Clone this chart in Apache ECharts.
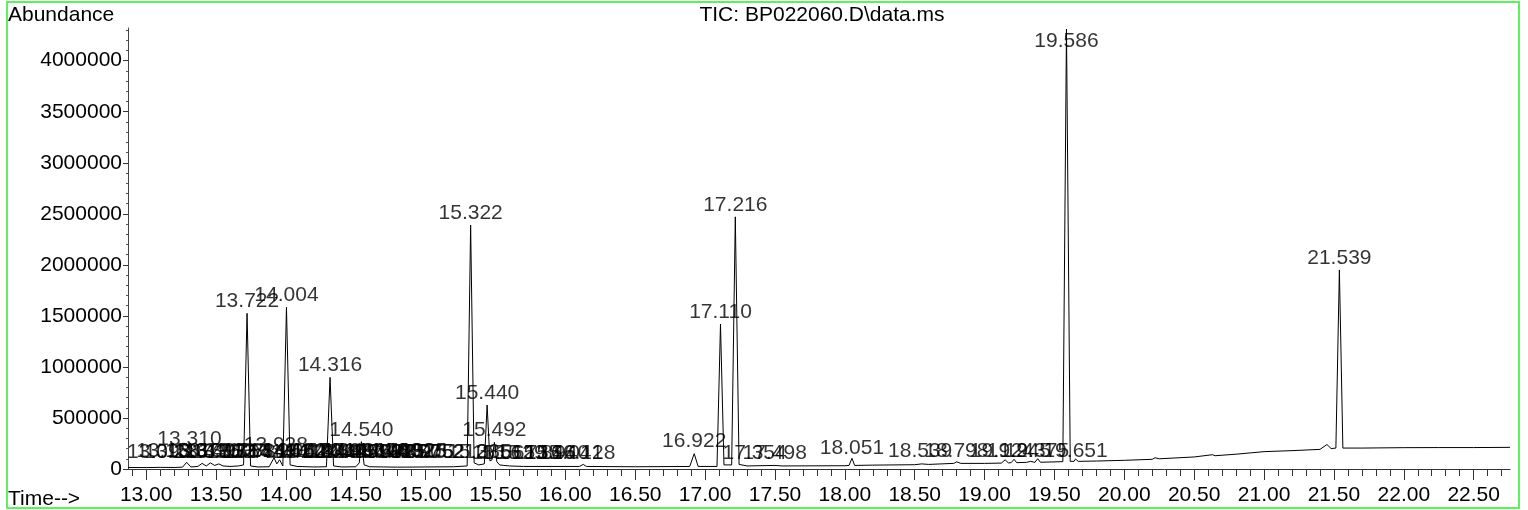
<!DOCTYPE html>
<html>
<head>
<meta charset="utf-8">
<title>TIC: BP022060.D\data.ms</title>
<script src="https://cdn.jsdelivr.net/npm/echarts@6/dist/echarts.min.js"></script>
<style>
  html, body { margin: 0; padding: 0; background: #fff; }
  #main { width: 1528px; height: 510px; }
</style>
</head>
<body>
<div id="main"></div>
<script>
  // TIC trace: retention time (min) and abundance
  var traceTime = [
    12.87, 13.00, 13.10, 13.20, 13.26, 13.29, 13.32, 13.37, 13.40, 13.43, 13.46, 13.49, 13.52, 13.55, 13.60, 13.66,
    13.697, 13.722, 13.747, 13.80, 13.88, 13.915, 13.935, 13.955, 13.978, 14.004, 14.03, 14.08, 14.20, 14.29,
    14.316, 14.341, 14.40, 14.50, 14.525, 14.540, 14.56, 14.60, 14.70, 14.80, 15.00, 15.20, 15.297,
    15.322, 15.347, 15.38, 15.42, 15.440, 15.46, 15.475, 15.492, 15.51, 15.53, 15.56, 15.60, 15.70,
    16.10, 16.128, 16.15, 16.50, 16.89, 16.922, 16.95, 17.085, 17.110, 17.135, 17.19, 17.216, 17.243,
    17.30, 17.50, 17.55, 18.00, 18.03, 18.051, 18.07, 18.20, 18.50, 18.55, 18.60, 18.78, 18.80, 18.83,
    19.00, 19.12, 19.147, 19.17, 19.19, 19.211, 19.23, 19.30, 19.33, 19.36, 19.38, 19.40, 19.56,
    19.586, 19.613, 19.64, 19.651, 19.67, 19.80, 20.00, 20.20, 20.22, 20.25, 20.50, 20.63, 20.65,
    20.80, 21.00, 21.20, 21.40, 21.45, 21.48, 21.514, 21.539, 21.564, 21.70, 22.00, 22.25, 22.50, 22.76
  ];
  var traceAbund = [
    15000, 14000, 16000, 15000, 18000, 65000, 20000, 25000, 55000, 30000, 60000, 35000, 50000, 30000, 25000, 30000,
    40000, 1525000, 30000, 20000, 22000, 110000, 50000, 90000, 30000, 1584000, 40000, 25000, 20000, 22000,
    898000, 30000, 20000, 22000, 60000, 268000, 40000, 22000, 20000, 18000, 20000, 22000, 30000,
    2390000, 60000, 40000, 50000, 627000, 80000, 90000, 262000, 70000, 40000, 35000, 30000, 25000,
    25000, 45000, 25000, 22000, 25000, 150000, 25000, 25000, 1420000, 40000, 40000, 2470000, 45000,
    30000, 35000, 30000, 32000, 35000, 105000, 35000, 38000, 42000, 50000, 45000, 55000, 70000, 55000,
    55000, 58000, 90000, 60000, 62000, 95000, 62000, 65000, 75000, 65000, 101000, 66000, 72000,
    4310000, 75000, 75000, 98000, 75000, 78000, 85000, 95000, 110000, 100000, 118000, 140000, 130000,
    145000, 170000, 180000, 192000, 240000, 200000, 205000, 1950000, 205000, 205000, 209000, 210000, 210000, 212000
  ];

  // integrated peaks: label text and apex abundance
  var peakTimes = [
    '13.093', '13.158', '13.216', '13.310', '13.377', '13.431', '13.497', '13.552', '13.608', '13.664',
    '13.722', '13.781', '13.849', '13.928', '13.962', '14.004', '14.062', '14.118', '14.170', '14.224',
    '14.271', '14.316', '14.349', '14.393', '14.447', '14.491', '14.540', '14.598', '14.646', '14.692',
    '14.740', '14.785', '14.832', '14.877', '14.925', '14.975', '15.052', '15.212', '15.322', '15.385',
    '15.440', '15.492', '15.561', '15.629', '15.735', '15.846', '15.940', '16.041', '16.128', '16.922',
    '17.110', '17.216', '17.354', '17.498', '18.051', '18.539', '18.798', '19.124', '19.245', '19.375',
    '19.586', '19.651', '21.539'
  ];
  var peakHeights = [
    50000, 55000, 50000, 170000, 55000, 50000, 55000, 50000, 55000, 50000,
    1525000, 50000, 55000, 120000, 55000, 1584000, 55000, 50000, 55000, 50000,
    55000, 898000, 50000, 55000, 50000, 55000, 260000, 50000, 55000, 50000,
    55000, 50000, 55000, 50000, 55000, 50000, 50000, 50000, 2390000, 45000,
    627000, 260000, 35000, 35000, 35000, 35000, 35000, 35000, 40000, 157000,
    1420000, 2470000, 40000, 40000, 90000, 55000, 55000, 55000, 55000, 55000,
    4310000, 55000, 1950000
  ];

  var xTickLabels = ['13.00', '13.50', '14.00', '14.50', '15.00', '15.50', '16.00', '16.50', '17.00', '17.50',
    '18.00', '18.50', '19.00', '19.50', '20.00', '20.50', '21.00', '21.50', '22.00', '22.50'];
  var yTickValues = [0, 500000, 1000000, 1500000, 2000000, 2500000, 3000000, 3500000, 4000000];

  var X_MIN = 12.87, X_MAX = 22.76, Y_MAX = 4320000;
  var FONT = '"Liberation Sans", Arial, sans-serif';
  var FS = 21;

  var majorTicks = xTickLabels.map(function (s) { return parseFloat(s); });
  var minorTicks = [];
  for (var i = 129; i <= 227; i++) {
    if (i % 5 !== 0) minorTicks.push(i / 10);
  }
  var yMinorTicks = [];
  for (var j = 1; j <= 43; j++) {
    if (j % 5 !== 0) yMinorTicks.push(j * 100000);
  }

  var trace = traceTime.map(function (t, k) { return [t, traceAbund[k]]; });
  var labels = peakTimes.map(function (s, k) {
    // labels near the top are kept inside the plot, like the original
    return { name: s, value: [parseFloat(s), Math.min(peakHeights[k], 4070000)] };
  });

  var myChart = echarts.init(document.getElementById('main'));
  myChart.setOption({
    animation: false,
    backgroundColor: '#fff',
    grid: { left: 128, right: 18, top: 28, bottom: 41, outerBoundsMode: 'none' },
    xAxis: [
      {
        type: 'value', min: X_MIN, max: X_MAX,
        axisLine: { show: true, lineStyle: { color: '#333', width: 1 } },
        axisTick: { show: true, customValues: majorTicks, length: 11, lineStyle: { color: '#333' } },
        axisLabel: {
          customValues: majorTicks, margin: 16, color: '#000', fontSize: FS, fontFamily: FONT,
          formatter: function (v) { return xTickLabels[majorTicks.indexOf(v)] || v.toFixed(2); }
        },
        splitLine: { show: false }
      },
      {
        type: 'value', min: X_MIN, max: X_MAX, position: 'bottom',
        axisLine: { show: false },
        axisTick: { show: true, customValues: minorTicks, length: 7, lineStyle: { color: '#333' } },
        axisLabel: { show: false },
        splitLine: { show: false }
      }
    ],
    yAxis: [
      {
        type: 'value', min: 0, max: Y_MAX,
        axisLine: { show: true, lineStyle: { color: '#444', width: 1 } },
        axisTick: { show: true, customValues: yTickValues, length: 5, lineStyle: { color: '#333' } },
        axisLabel: {
          customValues: yTickValues, margin: 6, color: '#000', fontSize: FS, fontFamily: FONT,
          formatter: function (v) { return String(v); }
        },
        splitLine: { show: false }
      },
      {
        type: 'value', min: 0, max: Y_MAX, position: 'left',
        axisLine: { show: false },
        axisTick: { show: true, customValues: yMinorTicks, length: 2, lineStyle: { color: '#555' } },
        axisLabel: { show: false },
        splitLine: { show: false }
      }
    ],
    graphic: [
      {
        type: 'rect', silent: true,
        shape: { x: 7, y: 2, width: 1512, height: 506 },
        style: { fill: 'none', stroke: '#5df25d', lineWidth: 2 }
      },
      {
        type: 'text', x: 8, y: 15,
        style: { text: 'Abundance', fill: '#000', font: FS + 'px ' + FONT, align: 'left', verticalAlign: 'middle' }
      },
      {
        type: 'text', x: 8, y: 499,
        style: { text: 'Time-->', fill: '#000', font: FS + 'px ' + FONT, align: 'left', verticalAlign: 'middle' }
      },
      {
        type: 'text', x: 822, y: 15,
        style: { text: 'TIC: BP022060.D\\data.ms', fill: '#000', font: FS + 'px ' + FONT, align: 'center', verticalAlign: 'middle' }
      }
    ],
    series: [
      {
        name: 'TIC', type: 'line', data: trace,
        showSymbol: false, symbol: 'none',
        lineStyle: { color: '#000', width: 1 },
        clip: true
      },
      {
        name: 'peaks', type: 'scatter', data: labels,
        symbol: 'circle', symbolSize: 1,
        itemStyle: { color: 'rgba(0,0,0,0)' },
        clip: false, z: 5,
        label: {
          show: true, position: 'top', distance: 1,
          formatter: '{b}', color: '#000', fontSize: FS, fontFamily: FONT
        }
      }
    ]
  });
</script>
</body>
</html>
